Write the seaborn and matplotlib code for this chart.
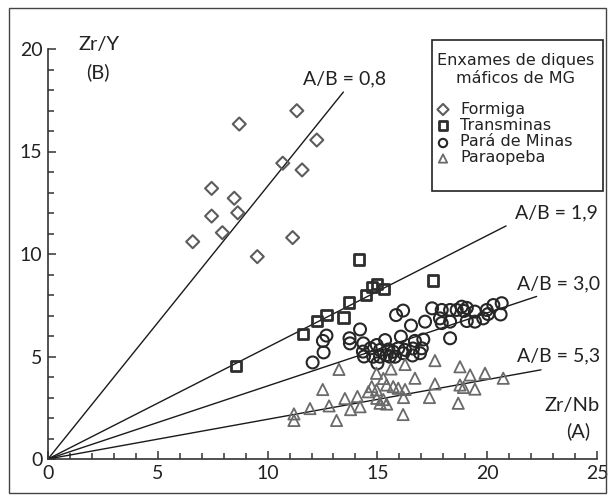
import pandas as pd
import matplotlib
matplotlib.use("Agg")
import matplotlib.pyplot as plt
from matplotlib.patches import Rectangle
from matplotlib.ticker import MultipleLocator
import seaborn as sns

# --- data ---

formiga_x = [11.33, 8.71, 12.24, 10.69, 11.57, 7.45, 8.48, 7.45, 8.64, 7.94, 6.59, 11.14, 9.53]
formiga_y = [16.99, 16.34, 15.56, 14.43, 14.10, 13.20, 12.72, 11.85, 12.01, 11.04, 10.60, 10.80, 9.87]

transminas_x = [8.56, 11.60, 12.24, 12.69, 13.46, 13.72, 14.48, 14.75, 14.98, 15.30, 14.16, 17.53]
transminas_y = [4.54, 6.10, 6.73, 7.02, 6.91, 7.63, 8.00, 8.39, 8.54, 8.29, 9.74, 8.71]

para_minas_x = [12.05, 12.55, 12.52, 12.68, 13.73, 13.75, 14.21, 14.34, 14.69, 14.39,
                15.00, 14.97, 15.12, 15.35, 15.50, 15.72, 15.42, 15.80, 15.95, 16.07,
                15.85, 16.17, 16.53, 17.17, 16.71, 17.09, 16.62, 16.60, 16.26, 16.18,
                16.94, 15.57, 14.81, 15.12, 17.02, 17.49, 17.93, 18.31, 18.61, 18.84,
                18.94, 19.07, 19.44, 19.98, 20.28, 20.66, 20.61, 20.04, 19.82, 19.44,
                19.07, 18.31, 17.93, 17.85, 18.31, 14.36]
para_minas_y = [4.71, 5.20, 5.76, 6.02, 5.89, 5.64, 6.32, 5.24, 5.40, 5.00,
                4.67, 5.56, 5.32, 5.80, 5.34, 5.23, 5.07, 4.99, 5.40, 5.97,
                7.02, 7.24, 6.51, 6.70, 5.76, 5.83, 5.39, 5.05, 5.32, 5.16,
                5.16, 4.99, 4.99, 4.99, 5.40, 7.35, 7.27, 7.27, 7.27, 7.43,
                7.22, 7.37, 7.19, 7.27, 7.51, 7.60, 7.05, 7.07, 6.86, 6.70,
                6.73, 6.70, 6.63, 6.86, 5.89, 5.64]

paraopeba_x = [11.20, 11.20, 11.93, 12.51, 12.80, 13.14, 13.25, 13.52, 13.78, 14.09,
               14.21, 14.59, 14.96, 14.96, 14.74, 15.27, 15.42, 15.62, 15.72, 15.95,
               16.26, 16.26, 15.12, 15.42, 15.27, 14.97, 16.19, 16.17, 16.71, 17.37,
               17.62, 17.62, 18.68, 18.76, 18.76, 18.92, 19.22, 19.44, 19.90, 20.73]
paraopeba_y = [2.20, 1.88, 2.46, 3.39, 2.59, 1.88, 4.37, 2.95, 2.41, 3.05,
               2.55, 3.28, 3.37, 4.18, 3.53, 3.93, 3.61, 4.39, 3.53, 3.45,
               3.39, 4.61, 2.72, 2.68, 2.90, 2.96, 3.00, 2.17, 3.94, 3.00,
               4.80, 3.66, 2.72, 4.50, 3.61, 3.49, 4.10, 3.41, 4.18, 3.94]

# A/B reference lines, drawn from the origin to the end point seen in the figure
line_labels = ["A/B = 0,8", "A/B = 1,9", "A/B = 3,0", "A/B = 5,3"]
line_end_x = [13.45, 20.86, 22.25, 22.45]
line_end_y = [17.90, 11.37, 7.93, 4.35]

groups = ["Formiga", "Transminas", "Pará de Minas", "Paraopeba"]
legend_title = ["Enxames de diques", "máficos de MG"]

# --- build one long table ---
frames = []
for name, xs, ys in zip(groups,
                        [formiga_x, transminas_x, para_minas_x, paraopeba_x],
                        [formiga_y, transminas_y, para_minas_y, paraopeba_y]):
    frames.append(pd.DataFrame({"ZrNb": xs, "ZrY": ys, "grupo": name}))
df = pd.concat(frames, ignore_index=True)

# marker style per group: (marker, size, edge colour, edge width, legend size)
styles = {
    "Formiga": ("D", 44, "#5c5c5c", 1.5, 32),
    "Transminas": ("s", 56, "#2e2e2e", 2.0, 34),
    "Pará de Minas": ("o", 74, "#262626", 1.5, 36),
    "Paraopeba": ("^", 66, "#6a6a6a", 1.3, 36),
}

sns.set_style("ticks")
plt.rcParams["font.family"] = ["Lato", "DejaVu Sans"]
TXT = "#222222"

W, H = 613, 501
fig = plt.figure(figsize=(W / 100, H / 100), dpi=100)
ax = fig.add_axes([48 / W, 1 - 459 / H, 549 / W, 410 / H])

for x1, y1 in zip(line_end_x, line_end_y):
    sns.lineplot(x=[0, x1], y=[0, y1], ax=ax, color="#1a1a1a", linewidth=1.0)

for name in groups:
    marker, size, ec, lw, _ = styles[name]
    sub = df[df["grupo"] == name]
    sns.scatterplot(data=sub, x="ZrNb", y="ZrY", ax=ax, marker=marker, s=size,
                    facecolor="none", edgecolor=ec, linewidth=lw, zorder=3,
                    legend=False)

ax.set_xlim(0, 25)
ax.set_ylim(0, 20)
ax.set_xlabel("")
ax.set_ylabel("")
ax.xaxis.set_major_locator(MultipleLocator(5))
ax.xaxis.set_minor_locator(MultipleLocator(1))
ax.yaxis.set_major_locator(MultipleLocator(5))
ax.yaxis.set_minor_locator(MultipleLocator(1))
ax.tick_params(which="both", direction="in", colors="#333333", width=1.1,
               labelcolor=TXT, labelsize=14)
ax.tick_params(which="major", length=6, pad=4)
ax.tick_params(which="minor", length=4)
sns.despine(ax=ax)
for sp in ["left", "bottom"]:
    ax.spines[sp].set_color("#333333")
    ax.spines[sp].set_linewidth(1.2)

# line labels
label_pos = [(11.6, 18.54), (21.25, 12.0), (21.35, 8.54), (21.35, 5.02)]
for text, (tx, ty) in zip(line_labels, label_pos):
    ax.text(tx, ty, text, fontsize=14, color=TXT, ha="left", va="center")

# axis titles placed like in the original
ax.text(2.32, 20.2, "Zr/Y", fontsize=14.5, color=TXT, ha="center", va="center", clip_on=False)
ax.text(2.28, 18.88, "(B)", fontsize=14.5, color=TXT, ha="center", va="center")
ax.text(23.86, 2.63, "Zr/Nb", fontsize=14.5, color=TXT, ha="center", va="center")
ax.text(24.13, 1.35, "(A)", fontsize=14.5, color=TXT, ha="center", va="center")

# legend box, drawn by hand to match the spacing of the original
fig.patches.append(Rectangle((431.5 / W, 1 - 190.5 / H), 171 / W, 150.5 / H,
                             transform=fig.transFigure, fill=False,
                             edgecolor=TXT, linewidth=1.2, zorder=5))
leg_font = ["DejaVu Sans"]
for line, py in zip(legend_title, [60.5, 78.5]):
    fig.text(516 / W, 1 - py / H, line, fontsize=11.5, family=leg_font, color=TXT,
             ha="center", va="center")
for name, py in zip(groups, [109.5, 125.5, 141.5, 157.0]):
    marker, _, ec, lw, lsize = styles[name]
    off = 1.5 if marker in ("o", "^") else 0
    ax.scatter([443 / W], [1 - (py + off) / H], transform=fig.transFigure,
               marker=marker, s=lsize, facecolor="none", edgecolor=ec,
               linewidth=lw, clip_on=False, zorder=6)
    fig.text(460.5 / W, 1 - py / H, name, fontsize=11.5, family=leg_font, color=TXT,
             ha="left", va="center")

# frame around the whole figure
fig.patches.append(Rectangle((9 / W, 8 / H), 597 / W, 485 / H,
                             transform=fig.transFigure, fill=False,
                             edgecolor="#444444", linewidth=1.0))

fig.savefig("out.png", dpi=100)
